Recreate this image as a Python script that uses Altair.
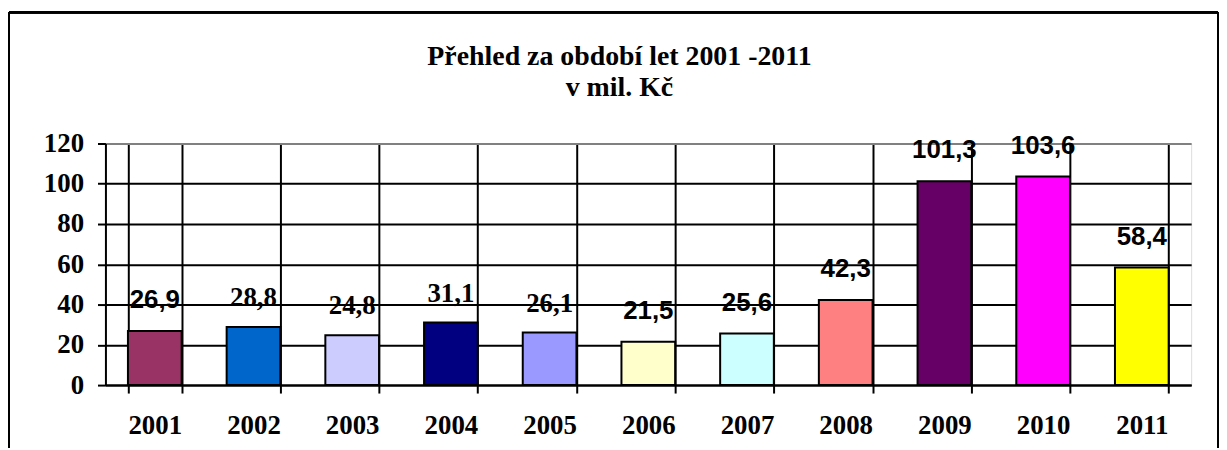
import altair as alt
import pandas as pd

years = ["2001", "2002", "2003", "2004", "2005", "2006", "2007", "2008", "2009", "2010", "2011"]
values = [26.9, 28.8, 24.8, 31.1, 26.1, 21.5, 25.6, 42.3, 101.3, 103.6, 58.4]
colors = ["#993366", "#0066CC", "#CCCCFF", "#000080", "#9999FF", "#FFFFCC",
          "#CCFFFF", "#FF8080", "#660066", "#FF00FF", "#FFFF00"]
y_ticks = [0, 20, 40, 60, 80, 100, 120]
title_lines = ["Přehled za období let 2001 -2011", "v mil. Kč"]

# labels drawn in serif in the original (style choice only)
serif_label_years = ["2002", "2003", "2004", "2005"]

df = pd.DataFrame({
    "year": years,
    "value": values,
    "label": [f"{v:.1f}".replace(".", ",") for v in values],
})

SERIF = "Liberation Serif"
SANS = "Liberation Sans"

x_enc = alt.X("year:N", sort=years, title=None,
              scale=alt.Scale(paddingInner=0.456, paddingOuter=0.228),
              axis=alt.Axis(tickBand="extent", labelAngle=0, labelFont=SERIF,
                            labelFontWeight="bold", labelFontSize=27, labelColor="black",
                            labelPadding=20, tickSize=8, tickColor="black", tickWidth=2,
                            domainColor="black", domainWidth=2,
                            grid=True, gridColor="black", gridWidth=2))
y_enc = alt.Y("value:Q", title=None,
              scale=alt.Scale(domain=[0, 120], nice=False),
              axis=alt.Axis(values=y_ticks, labelFont=SERIF, labelFontWeight="bold",
                            labelFontSize=27, labelColor="black", labelPadding=14,
                            tickSize=8, tickColor="black", tickWidth=2,
                            domainColor="black", domainWidth=2,
                            gridColor=alt.condition("datum.value == 120",
                                                    alt.value("#808080"), alt.value("black")),
                            gridWidth=2))

bars = alt.Chart(df).mark_bar(stroke="black", strokeWidth=2).encode(
    x=x_enc,
    y=y_enc,
    color=alt.Color("year:N", sort=years,
                    scale=alt.Scale(domain=years, range=colors), legend=None),
)

text_base = alt.Chart(df).encode(
    x=alt.X("year:N", sort=years),
    y=alt.Y("value:Q"),
    text="label:N",
)
labels_sans = text_base.transform_filter(
    alt.FieldOneOfPredicate(field="year", oneOf=[y for y in years if y not in serif_label_years])
).mark_text(font=SANS, fontWeight="bold", fontSize=26, color="black",
            baseline="middle", dy=-31)
labels_serif = text_base.transform_filter(
    alt.FieldOneOfPredicate(field="year", oneOf=serif_label_years)
).mark_text(font=SERIF, fontWeight="bold", fontSize=27, color="black",
            baseline="middle", dy=-29)

# outer chart frame (decorative)
frame_left = alt.Chart(df).mark_rule(color="black", strokeWidth=2).encode(
    x=alt.value(-97), y=alt.value(-132), y2=alt.value(306))
frame_top = alt.Chart(df).mark_rule(color="black", strokeWidth=2).encode(
    x=alt.value(-97), x2=alt.value(1119), y=alt.value(-132))
frame_right = alt.Chart(df).mark_rule(color="black", strokeWidth=2).encode(
    x=alt.value(1119), y=alt.value(-132), y2=alt.value(306))

chart = alt.layer(bars, labels_sans, labels_serif, frame_left, frame_top, frame_right).properties(
    width=1092,
    height=243,
    padding={"left": 0, "top": 2, "right": 0, "bottom": 0},
    title=alt.TitleParams(text=title_lines, font=SERIF, fontWeight="bold", fontSize=28,
                          color="black", anchor="middle", dx=-29, lineHeight=31,
                          baseline="alphabetic", offset=-113),
).configure_view(stroke="#808080", strokeWidth=2).configure(background="white")

chart.save("out.html", embed_options={"renderer": "svg", "actions": False})
